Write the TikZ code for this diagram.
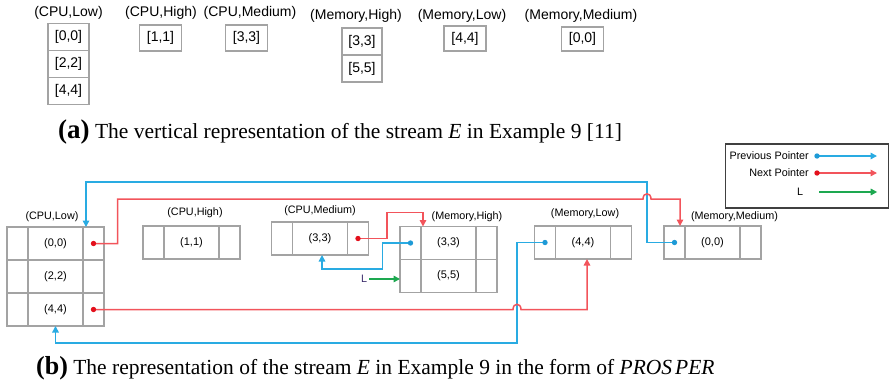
\documentclass[tikz,border=0pt]{standalone}
\usepackage{fontspec}
\setmainfont{Liberation Serif}
\setsansfont{Liberation Sans}
\usetikzlibrary{arrows.meta,calc,positioning}
\definecolor{psgray}{HTML}{A3A3A3}
\definecolor{psframe}{HTML}{404040}
\definecolor{psblue}{HTML}{29ABE2}
\definecolor{psred}{HTML}{F2545B}
\definecolor{psreddot}{HTML}{E3101C}
\definecolor{psbluedot}{HTML}{1E9AD6}
\definecolor{psgreen}{HTML}{1DA850}
\definecolor{psnavy}{HTML}{3A2A6A}
\tikzset{
  vcell/.style={
    draw=psgray,
    line width=1.5pt,
    inner sep=0pt,
    outer sep=0pt,
    minimum width=42pt,
    minimum height=26pt,
    font=\fontsize{14}{14}\sffamily
  },
  vlabel/.style={
    inner sep=0pt,
    font=\fontsize{14}{14}\sffamily
  },
  pscell/.style={
    draw=psgray,
    line width=1.2pt,
    inner sep=0pt,
    outer sep=0pt,
    minimum height=33pt,
    font=\fontsize{11}{11}\sffamily
  },
  psmid/.style={
    pscell,
    minimum width=55pt
  },
  psside/.style={
    pscell,
    minimum width=21pt
  },
  pslabel/.style={
    inner sep=0pt,
    font=\fontsize{10.8}{10.8}\sffamily
  },
  psnext/.style={
    -{Triangle[length=6.5pt,width=6.5pt]},
    line width=1.5pt,
    color=psred
  },
  psprev/.style={
    -{Triangle[length=6.5pt,width=6.5pt]},
    line width=1.5pt,
    color=psblue
  },
  psL/.style={
    -{Triangle[length=6.5pt,width=6.5pt]},
    line width=1.5pt,
    color=psgreen
  },
  pslegend/.style={
    draw=psframe,
    line width=1.2pt,
    minimum width=163pt,
    minimum height=64pt
  },
  pscaption/.style={
    inner sep=0pt,
    font=\fontsize{21.5}{21.5}\rmfamily
  }
}

\begin{document}
\begin{tikzpicture}[x=1pt,y=-1pt]
  \useasboundingbox (0,0) rectangle (890,381);

  % (a) vertical representation
  \node[vlabel] (va-cl-lab) at (68.5,13) {(CPU,Low)};
  \node[vlabel] (va-ch-lab) at (161,13) {(CPU,High)};
  \node[vlabel] (va-cm-lab) at (250,13) {(CPU,Medium)};
  \node[vlabel] (va-mh-lab) at (356,16) {(Memory,High)};
  \node[vlabel] (va-ml-lab) at (462,16) {(Memory,Low)};
  \node[vlabel] (va-mm-lab) at (581,16) {(Memory,Medium)};

  \node[vcell, minimum width=41pt, minimum height=27pt] (va-cl1) at (68.5,37) {[0,0]};
  \node[vcell, minimum width=41pt, minimum height=27pt, below=0pt of va-cl1] (va-cl2) {[2,2]};
  \node[vcell, minimum width=41pt, minimum height=27pt, below=0pt of va-cl2] (va-cl3) {[4,4]};
  \node[vcell] (va-ch) at (160.5,38) {[1,1]};
  \node[vcell] (va-cm) at (246.5,38) {[3,3]};
  \node[vcell, minimum width=40pt, minimum height=27pt] (va-mh1) at (362,41.5) {[3,3]};
  \node[vcell, minimum width=40pt, minimum height=27pt, below=0pt of va-mh1] (va-mh2) {[5,5]};
  \node[vcell, minimum height=25pt] (va-ml) at (465,38.5) {[4,4]};
  \node[vcell, minimum height=24pt] (va-mm) at (582.5,39) {[0,0]};

  \node[pscaption, anchor=base west] (cap-a) at (58,138) {{\fontsize{27}{27}\bfseries (a)} The vertical representation of the stream \textit{E} in Example 9 [11]};

  % (b) PROSPER records
  \node[pslabel] (cl-lab) at (52,217) {(CPU,Low)};
  \node[pslabel] (ch-lab) at (195,213) {(CPU,High)};
  \node[pslabel] (cm-lab) at (320,211) {(CPU,Medium)};
  \node[pslabel] (mh-lab) at (467,217) {(Memory,High)};
  \node[pslabel] (ml-lab) at (585,214) {(Memory,Low)};
  \node[pslabel] (mm-lab) at (734.5,217) {(Memory,Medium)};

  \node[psmid] (cl1) at (55.5,243.5) {(0,0)};
  \node[psmid, below=0pt of cl1] (cl2) {(2,2)};
  \node[psmid, below=0pt of cl2] (cl3) {(4,4)};
  \node[psside, left=0pt of cl1] (cl1-l) {};
  \node[psside, right=0pt of cl1] (cl1-r) {};
  \node[psside, left=0pt of cl2] (cl2-l) {};
  \node[psside, right=0pt of cl2] (cl2-r) {};
  \node[psside, left=0pt of cl3] (cl3-l) {};
  \node[psside, right=0pt of cl3] (cl3-r) {};

  \node[psmid] (ch) at (191.5,242.5) {(1,1)};
  \node[psside, left=0pt of ch] (ch-l) {};
  \node[psside, right=0pt of ch] (ch-r) {};

  \node[psmid] (cm) at (320,238.5) {(3,3)};
  \node[psside, left=0pt of cm] (cm-l) {};
  \node[psside, right=0pt of cm] (cm-r) {};

  \node[psmid] (mh1) at (448.5,243) {(3,3)};
  \node[psmid, below=0pt of mh1] (mh2) {(5,5)};
  \node[psside, left=0pt of mh1] (mh1-l) {};
  \node[psside, right=0pt of mh1] (mh1-r) {};
  \node[psside, left=0pt of mh2] (mh2-l) {};
  \node[psside, right=0pt of mh2] (mh2-r) {};

  \node[psmid] (ml) at (583,242.5) {(4,4)};
  \node[psside, left=0pt of ml] (ml-l) {};
  \node[psside, right=0pt of ml] (ml-r) {};

  \node[psmid] (mm) at (712.5,242.5) {(0,0)};
  \node[psside, left=0pt of mm] (mm-l) {};
  \node[psside, right=0pt of mm] (mm-r) {};

  % bends and line jumps
  \coordinate (bend-prevtop) at (647,182);
  \coordinate (bend-prevbot) at (517,343);
  \coordinate (jump-top) at (647,199);
  \coordinate (jump-bot) at (bend-prevbot |- cl3-r.center);

  % previous pointers
  \draw[psprev] (mm-l.center) -| (bend-prevtop) -| ([xshift=3pt]cl1-r.north west);
  \draw[psprev] (mh1-l.center) -- ++(-28,0) |- ([xshift=2pt,yshift=-14pt]cm.south) -- ([xshift=2pt]cm.south);
  \draw[psprev] (ml-l.center) -| (bend-prevbot) -| (cl3.south);

  % next pointers
  \draw[psnext] (cl1-r.center) -- ++(24,0) |- ([xshift=-4pt]jump-top) .. controls +(0,-7) and +(0,-7) .. ([xshift=4pt]jump-top) -| ([xshift=-5pt]mm-l.north east);
  \draw[psnext] (cm-r.center) -- ++(29,0) |- ([xshift=2pt,yshift=14pt]mh1.north west) -- ([xshift=2pt]mh1.north west);
  \draw[psnext] (cl3-r.center) -- ([xshift=-4pt]jump-bot) .. controls +(0,-7) and +(0,-7) .. ([xshift=4pt]jump-bot) -| ([xshift=4pt]ml.south);

  \fill[psreddot] (cl1-r.center) circle (2.7pt);
  \fill[psreddot] (cl3-r.center) circle (2.7pt);
  \fill[psreddot] (cm-r.center) circle (2.7pt);
  \fill[psbluedot] (mh1-l.center) circle (2.7pt);
  \fill[psbluedot] (ml-l.center) circle (2.7pt);
  \fill[psbluedot] (mm-l.center) circle (2.7pt);

  \node[pslabel, text=psnavy] (lptr) at (364,279) {L};
  \draw[psL] ([xshift=2pt]lptr.east) -- (lptr.east -| mh2-l.west);

  % legend
  \node[pslegend] (legend) at (807,176) {};
  \node[pslabel, anchor=east] (leg-prev) at (809,156) {Previous Pointer};
  \node[pslabel, anchor=east] (leg-next) at (809,173) {Next Pointer};
  \node[pslabel] (leg-l) at (800,192) {L};
  \draw[psprev] ([xshift=8pt]leg-prev.east) -- ++(60,0);
  \draw[psnext] ([xshift=8pt]leg-next.east) -- ++(60,0);
  \draw[psL] ([xshift=16pt]leg-l.east) -- ++(58,0);
  \fill[psbluedot] ([xshift=8pt]leg-prev.east) circle (2.7pt);
  \fill[psreddot] ([xshift=8pt]leg-next.east) circle (2.7pt);

  \node[pscaption, anchor=base west] (cap-b) at (36,374) {{\fontsize{26}{26}\bfseries (b)} The representation of the stream \textit{E} in Example 9 in the form of \textit{PROS\hspace{3pt}PER}};
\end{tikzpicture}
\end{document}
